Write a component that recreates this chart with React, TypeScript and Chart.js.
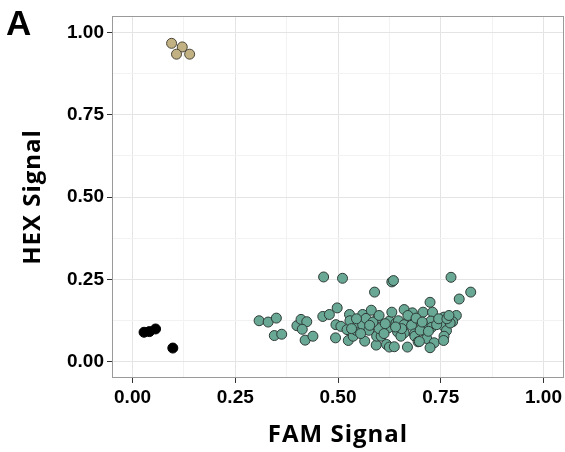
import React, { useEffect, useRef } from "react";
import { Chart, registerables } from "chart.js";

Chart.register(...registerables);

const axisTicks = [0, 0.25, 0.5, 0.75, 1];
const minorTicks = [0.125, 0.375, 0.625, 0.875];

const tanFam = [0.095, 0.121, 0.107, 0.139];
const tanHex = [0.967, 0.956, 0.934, 0.934];

const blackFam = [0.028, 0.041, 0.056, 0.098];
const blackHex = [0.089, 0.091, 0.099, 0.041];

const tealFam = [
  0.308, 0.33, 0.35, 0.345, 0.363, 0.4, 0.41, 0.424, 0.413, 0.42, 0.439, 0.463, 0.479, 0.498, 0.495,
  0.507, 0.494, 0.522, 0.525, 0.528, 0.529, 0.465, 0.511, 0.537, 0.544, 0.549, 0.56, 0.56, 0.568, 0.565,
  0.575, 0.581, 0.589, 0.593, 0.594, 0.597, 0.605, 0.618, 0.622, 0.625, 0.625, 0.631, 0.631, 0.635, 0.637,
  0.641, 0.775, 0.823, 0.795, 0.724, 0.661, 0.681, 0.707, 0.73, 0.758, 0.788, 0.779, 0.75, 0.647, 0.673,
  0.694, 0.726, 0.661, 0.679, 0.71, 0.728, 0.758, 0.645, 0.661, 0.686, 0.714, 0.764, 0.653, 0.687, 0.716,
  0.758, 0.695, 0.734, 0.757, 0.669, 0.724, 0.773, 0.698, 0.6, 0.615, 0.655, 0.67, 0.69, 0.7, 0.74,
  0.745, 0.545, 0.585, 0.577, 0.533, 0.612, 0.64, 0.705, 0.72, 0.765, 0.77, 0.555, 0.6,
];
const tealHex = [
  0.124, 0.12, 0.132, 0.079, 0.083, 0.109, 0.128, 0.121, 0.098, 0.065, 0.077, 0.137, 0.143, 0.163, 0.112,
  0.107, 0.072, 0.097, 0.064, 0.143, 0.124, 0.257, 0.253, 0.077, 0.095, 0.117, 0.143, 0.112, 0.131, 0.062,
  0.095, 0.156, 0.211, 0.05, 0.077, 0.133, 0.077, 0.052, 0.102, 0.123, 0.044, 0.15, 0.242, 0.246, 0.045,
  0.117, 0.256, 0.211, 0.19, 0.18, 0.158, 0.148, 0.15, 0.15, 0.135, 0.14, 0.121, 0.124, 0.124, 0.128,
  0.123, 0.123, 0.112, 0.11, 0.107, 0.104, 0.107, 0.09, 0.087, 0.084, 0.087, 0.094, 0.077, 0.077, 0.07,
  0.077, 0.06, 0.057, 0.064, 0.044, 0.042, 0.117, 0.061, 0.1, 0.115, 0.1, 0.14, 0.132, 0.095, 0.112,
  0.13, 0.13, 0.12, 0.11, 0.1, 0.085, 0.105, 0.12, 0.092, 0.13, 0.14, 0.085, 0.14,
];

const xTitle = "FAM Signal";
const yTitle = "HEX Signal";
const panelLabel = "A";

const toPoints = (xs: number[], ys: number[]) => xs.map((x, i) => ({ x, y: ys[i] }));

const tickFont = { family: "'Liberation Sans', Arial, sans-serif", size: 19, weight: "bold" as const };
const titleFont = "bold 24px 'Open Sans', sans-serif";

const allTicks = [...axisTicks, ...minorTicks].sort((a, b) => a - b);
const isMajor = (v: number) => axisTicks.some((t) => Math.abs(t - v) < 1e-9);

const framePlugin = {
  id: "frameAndTitles",
  afterDraw(chart: any) {
    const { ctx, chartArea } = chart;
    ctx.save();
    ctx.strokeStyle = "#9a9a9a";
    ctx.lineWidth = 1;
    ctx.strokeRect(chartArea.left + 0.5, chartArea.top + 0.5, chartArea.right - chartArea.left - 1, chartArea.bottom - chartArea.top - 1);
    ctx.fillStyle = "#000";
    ctx.font = titleFont;
    (ctx as any).letterSpacing = "1px";
    ctx.textAlign = "center";
    ctx.textBaseline = "alphabetic";
    ctx.fillText(xTitle, (chartArea.left + chartArea.right) / 2, 442);
    ctx.save();
    ctx.translate(40, (chartArea.top + chartArea.bottom) / 2);
    ctx.rotate(-Math.PI / 2);
    ctx.fillText(yTitle, 0, 0);
    ctx.restore();
    (ctx as any).letterSpacing = "0px";
    ctx.font = "bold 35px 'Liberation Sans', Arial, sans-serif";
    ctx.textAlign = "left";
    ctx.fillText(panelLabel, 6, 35);
    ctx.restore();
  },
};

const makeScale = (isX: boolean) => ({
  type: "linear" as const,
  min: -0.05,
  max: 1.05,
  afterBuildTicks: (scale: any) => {
    scale.ticks = allTicks.map((v) => ({ value: v }));
  },
  afterFit: (scale: any) => {
    scale.paddingLeft = 0;
    scale.paddingRight = 0;
    scale.paddingTop = 0;
    scale.paddingBottom = 0;
    if (isX) scale.height = 74;
    else scale.width = 112;
  },
  border: { display: false },
  grid: {
    color: (c: any) => (c.tick && isMajor(c.tick.value) ? "#e4e4e4" : "#f2f2f2"),
    tickColor: (c: any) => (c.tick && isMajor(c.tick.value) ? "#333333" : "rgba(0,0,0,0)"),
    tickLength: 5,
    lineWidth: 1,
  },
  ticks: {
    autoSkip: false,
    maxRotation: 0,
    color: "#000",
    font: tickFont,
    padding: 3,
    callback: (v: any) => (isMajor(Number(v)) ? Number(v).toFixed(2) : ""),
  },
});

export default function App() {
  const ref = useRef<HTMLCanvasElement | null>(null);
  useEffect(() => {
    if (!ref.current) return;
    const pointBorder = "#2e3b36";
    const chart = new Chart(ref.current, {
      type: "scatter",
      data: {
        datasets: [
          {
            label: "tan",
            data: toPoints(tanFam, tanHex),
            backgroundColor: "#c2b283",
            borderColor: "#4a4538",
            borderWidth: 1,
            pointRadius: 5,
          },
          {
            label: "black",
            data: toPoints(blackFam, blackHex),
            backgroundColor: "#000000",
            borderColor: "#000000",
            borderWidth: 1,
            pointRadius: 5,
          },
          {
            label: "teal",
            data: toPoints(tealFam, tealHex),
            backgroundColor: "#69a895",
            borderColor: pointBorder,
            borderWidth: 1,
            pointRadius: 5,
          },
        ],
      },
      options: {
        responsive: false,
        animation: false,
        layout: { autoPadding: false, padding: { left: 0, top: 16, right: 1, bottom: 0 } },
        plugins: { legend: { display: false }, tooltip: { enabled: false } },
        scales: { x: makeScale(true), y: makeScale(false) },
      },
      plugins: [framePlugin],
    });
    return () => chart.destroy();
  }, []);
  return (
    <div style={{ position: "fixed", left: 0, top: 0, width: 565, height: 452, background: "#fff" }}>
      <canvas ref={ref} width={565} height={452} style={{ display: "block" }} />
    </div>
  );
}
